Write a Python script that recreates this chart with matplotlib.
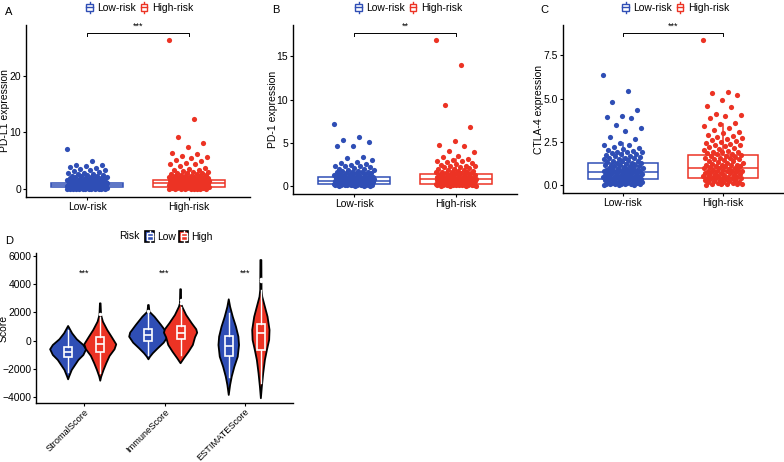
import matplotlib
matplotlib.use('Agg')
import matplotlib.pyplot as plt
from matplotlib.patches import Rectangle, Patch
from matplotlib.lines import Line2D
from matplotlib.legend_handler import HandlerBase

plt.rcParams['font.family'] = ['Liberation Sans', 'DejaVu Sans']

BLUE = '#2F4EB5'
RED = '#EC3324'
W, H = 784, 462

groups = ['Low-risk', 'High-risk']

# ---------------- Panel A : PD-L1 ----------------
A_low = [7.0, 5.0, 4.3, 4.2, 4.0, 3.9, 3.7, 3.5, 3.4, 3.3, 3.2, 3.0, 2.9, 2.8, 2.7, 2.6, 2.5, 2.5,
         2.4, 2.3, 2.3, 2.2, 2.1, 2.1, 2.0, 2.0, 1.9, 1.9, 1.8, 1.8, 1.8, 1.7, 1.7, 1.6, 1.6, 1.6,
         1.5, 1.5, 1.5, 1.4, 1.4, 1.4, 1.3, 1.3, 1.3, 1.3, 1.2, 1.2, 1.2, 1.2, 1.1, 1.1, 1.1, 1.1,
         1.0, 1.0, 1.0, 1.0, 1.0, 0.9, 0.9, 0.9, 0.9, 0.9, 0.8, 0.8, 0.8, 0.8, 0.8, 0.8, 0.7, 0.7,
         0.7, 0.7, 0.7, 0.7, 0.6, 0.6, 0.6, 0.6, 0.6, 0.6, 0.6, 0.5, 0.5, 0.5, 0.5, 0.5, 0.5, 0.5,
         0.4, 0.4, 0.4, 0.4, 0.4, 0.4, 0.4, 0.3, 0.3, 0.3, 0.3, 0.3, 0.3, 0.3, 0.2, 0.2, 0.2, 0.2,
         0.2, 0.2, 0.2, 0.1, 0.1, 0.1, 0.1, 0.1, 0.1, 0.05, 0.05, 0.05, 0.05, 0.0, 0.0, 0.0]
A_high = [26.2, 12.3, 9.2, 8.1, 7.4, 6.3, 6.2, 5.8, 5.7, 5.5, 5.1, 5.0, 4.6, 4.5, 4.4, 4.1, 3.8,
          3.6, 3.4, 3.3, 3.2, 3.1, 3.0, 2.9, 2.8, 2.8, 2.7, 2.6, 2.5, 2.5, 2.4, 2.4, 2.3, 2.3, 2.2,
          2.2, 2.1, 2.1, 2.0, 2.0, 1.9, 1.9, 1.9, 1.8, 1.8, 1.8, 1.7, 1.7, 1.7, 1.6, 1.6, 1.6, 1.5,
          1.5, 1.5, 1.4, 1.4, 1.4, 1.4, 1.3, 1.3, 1.3, 1.3, 1.2, 1.2, 1.2, 1.2, 1.1, 1.1, 1.1, 1.1,
          1.0, 1.0, 1.0, 1.0, 1.0, 0.9, 0.9, 0.9, 0.9, 0.9, 0.8, 0.8, 0.8, 0.8, 0.8, 0.7, 0.7, 0.7,
          0.7, 0.7, 0.6, 0.6, 0.6, 0.6, 0.6, 0.5, 0.5, 0.5, 0.5, 0.5, 0.4, 0.4, 0.4, 0.4, 0.4, 0.3,
          0.3, 0.3, 0.3, 0.3, 0.2, 0.2, 0.2, 0.2, 0.2, 0.1, 0.1, 0.1, 0.1, 0.1, 0.05, 0.05, 0.0, 0.0]
# box stats: whisker low, q1, median, q3, whisker high
A_low_box = [0.0, 0.30, 0.70, 1.15, 2.4]
A_high_box = [0.0, 0.40, 1.05, 1.65, 3.5]

# ---------------- Panel B : PD-1 ----------------
B_low = [7.2, 5.7, 5.4, 5.1, 4.7, 4.6, 3.4, 3.3, 3.0, 2.8, 2.7, 2.6, 2.5, 2.4, 2.3, 2.3, 2.2, 2.1,
         2.0, 2.0, 1.9, 1.9, 1.8, 1.8, 1.7, 1.7, 1.6, 1.6, 1.5, 1.5, 1.5, 1.4, 1.4, 1.4, 1.3, 1.3,
         1.3, 1.2, 1.2, 1.2, 1.1, 1.1, 1.1, 1.1, 1.0, 1.0, 1.0, 1.0, 0.9, 0.9, 0.9, 0.9, 0.8, 0.8,
         0.8, 0.8, 0.8, 0.8, 0.7, 0.7, 0.7, 0.7, 0.7, 0.7, 0.6, 0.6, 0.6, 0.6, 0.6, 0.6, 0.6, 0.5,
         0.5, 0.5, 0.5, 0.5, 0.5, 0.5, 0.4, 0.4, 0.4, 0.4, 0.4, 0.4, 0.4, 0.3, 0.3, 0.3, 0.3, 0.3,
         0.3, 0.3, 0.2, 0.2, 0.2, 0.2, 0.2, 0.2, 0.2, 0.1, 0.1, 0.1, 0.1, 0.1, 0.1, 0.0, 0.0, 0.0,
         0.0]
B_high = [16.9, 14.0, 9.4, 6.8, 5.2, 4.8, 4.7, 4.1, 4.0, 3.5, 3.4, 3.2, 3.0, 2.9, 2.9, 2.8, 2.7,
          2.6, 2.5, 2.4, 2.4, 2.3, 2.2, 2.2, 2.1, 2.0, 2.0, 1.9, 1.9, 1.8, 1.8, 1.7, 1.7, 1.6, 1.6,
          1.5, 1.5, 1.5, 1.4, 1.4, 1.4, 1.3, 1.3, 1.3, 1.2, 1.2, 1.2, 1.1, 1.1, 1.1, 1.0, 1.0, 1.0,
          1.0, 0.9, 0.9, 0.9, 0.9, 0.9, 0.8, 0.8, 0.8, 0.8, 0.8, 0.8, 0.7, 0.7, 0.7, 0.7, 0.7, 0.7,
          0.6, 0.6, 0.6, 0.6, 0.6, 0.6, 0.5, 0.5, 0.5, 0.5, 0.5, 0.5, 0.4, 0.4, 0.4, 0.4, 0.4, 0.4,
          0.3, 0.3, 0.3, 0.3, 0.3, 0.3, 0.2, 0.2, 0.2, 0.2, 0.2, 0.2, 0.1, 0.1, 0.1, 0.1, 0.1, 0.1,
          0.0, 0.0, 0.0, 0.0]
B_low_box = [0.0, 0.27, 0.57, 1.03, 2.15]
B_high_box = [0.0, 0.27, 0.85, 1.42, 3.1]

# ---------------- Panel C : CTLA-4 ----------------
C_low = [6.35, 5.45, 4.83, 4.36, 4.0, 3.93, 3.86, 3.47, 3.28, 3.16, 2.8, 2.7, 2.43, 2.35, 2.3, 2.2,
         2.15, 2.1, 2.05, 2.0, 1.95, 1.9, 1.9, 1.85, 1.8, 1.8, 1.75, 1.7, 1.7, 1.65, 1.6, 1.6, 1.55,
         1.5, 1.5, 1.45, 1.4, 1.4, 1.4, 1.35, 1.3, 1.3, 1.3, 1.25, 1.2, 1.2, 1.2, 1.15, 1.1, 1.1,
         1.1, 1.05, 1.0, 1.0, 1.0, 1.0, 0.95, 0.95, 0.9, 0.9, 0.9, 0.9, 0.85, 0.85, 0.85, 0.8, 0.8,
         0.8, 0.8, 0.75, 0.75, 0.75, 0.7, 0.7, 0.7, 0.7, 0.65, 0.65, 0.65, 0.6, 0.6, 0.6, 0.6, 0.55,
         0.55, 0.55, 0.5, 0.5, 0.5, 0.5, 0.45, 0.45, 0.45, 0.4, 0.4, 0.4, 0.4, 0.35, 0.35, 0.35, 0.3,
         0.3, 0.3, 0.3, 0.25, 0.25, 0.25, 0.2, 0.2, 0.2, 0.2, 0.15, 0.15, 0.15, 0.1, 0.1, 0.1, 0.1,
         0.05, 0.05, 0.05, 0.02, 0.02, 0.0]
C_high = [8.39, 5.4, 5.3, 5.2, 4.9, 4.6, 4.5, 4.1, 4.05, 4.0, 3.9, 3.6, 3.55, 3.4, 3.3, 3.2, 3.1,
          3.0, 2.9, 2.85, 2.8, 2.75, 2.7, 2.6, 2.55, 2.5, 2.45, 2.4, 2.35, 2.3, 2.25, 2.2, 2.15, 2.1,
          2.05, 2.0, 1.95, 1.9, 1.9, 1.85, 1.8, 1.8, 1.75, 1.7, 1.7, 1.65, 1.6, 1.6, 1.55, 1.5, 1.5,
          1.45, 1.4, 1.4, 1.35, 1.3, 1.3, 1.25, 1.2, 1.2, 1.2, 1.15, 1.1, 1.1, 1.1, 1.05, 1.0, 1.0,
          1.0, 0.95, 0.9, 0.9, 0.9, 0.85, 0.85, 0.8, 0.8, 0.8, 0.75, 0.75, 0.7, 0.7, 0.7, 0.65, 0.65,
          0.6, 0.6, 0.6, 0.55, 0.55, 0.5, 0.5, 0.5, 0.45, 0.45, 0.4, 0.4, 0.4, 0.35, 0.35, 0.3, 0.3,
          0.3, 0.25, 0.25, 0.2, 0.2, 0.2, 0.15, 0.15, 0.1, 0.1, 0.1, 0.05, 0.05, 0.0]
C_low_box = [0.0, 0.38, 0.76, 1.27, 2.43]
C_high_box = [0.0, 0.44, 0.99, 1.76, 3.56]

# ---------------- Panel D : violins ----------------
D_categories = ['StromalScore', 'ImmuneScore', 'ESTIMATEScore']
# density profiles (score level, relative half width)
SL_y = [1043, 525, 100, -305, -610, -1015, -1370, -1720, -2080, -2550, -2740]
SL_w = [0.0, 0.05, 0.108, 0.19, 0.224, 0.19, 0.128, 0.087, 0.045, 0.012, 0.0]
SH_y = [2650, 1820, 1350, 760, 240, -260, -610, -1085, -1600, -2080, -2550, -2840]
SH_w = [0.004, 0.01, 0.033, 0.087, 0.145, 0.199, 0.178, 0.116, 0.075, 0.041, 0.012, 0.0]
IL_y = [2530, 2060, 1700, 1115, 570, 285, -140, -540, -895, -1135, -1320]
IL_w = [0.004, 0.012, 0.075, 0.157, 0.228, 0.24, 0.19, 0.116, 0.054, 0.02, 0.0]
IH_y = [3650, 2650, 2410, 1820, 1230, 810, 570, 240, -305, -780, -1250, -1600]
IH_w = [0.004, 0.008, 0.02, 0.07, 0.14, 0.195, 0.207, 0.18, 0.153, 0.1, 0.041, 0.0]
EL_y = [2935, 2410, 1700, 990, 285, -305, -1135, -1845, -2550, -3140, -3850]
EL_w = [0.0, 0.017, 0.05, 0.09, 0.12, 0.128, 0.112, 0.07, 0.037, 0.017, 0.0]
EH_y = [5720, 3600, 3120, 2410, 1700, 760, 50, -660, -1370, -2310, -3260, -4085]
EH_w = [0.006, 0.008, 0.017, 0.05, 0.083, 0.108, 0.103, 0.075, 0.05, 0.029, 0.012, 0.0]
# box stats: whisker low, q1, median, q3, whisker high
SL_box = [-2200, -1180, -780, -425, 760]
SH_box = [-2270, -780, -260, 240, 1700]
IL_box = [-1015, 0, 400, 810, 2000]
IH_box = [-1050, 100, 570, 1040, 2400]
EL_box = [-2550, -1085, -380, 330, 1960]
EH_box = [-3000, -640, 580, 1150, 3600]
SH_out = [1890]
IL_out = [2080]
IH_out = [2700, 2890]
EH_out = [4260, 4400]

fig = plt.figure(figsize=(W / 100, H / 100), dpi=100)


def add_ax(l, t, r, b):
    return fig.add_axes([l / W, 1 - b / H, (r - l) / W, (b - t) / H])


def style(ax):
    for s in ['top', 'right']:
        ax.spines[s].set_visible(False)
    for s in ['left', 'bottom']:
        ax.spines[s].set_linewidth(1.0)
    ax.tick_params(direction='out', length=2.2, width=0.8, pad=1.2, labelsize=7.5, colors='black')


class BoxKey(HandlerBase):
    def __init__(self, col, violin=False):
        super().__init__()
        self.col = col
        self.violin = violin

    def create_artists(self, legend, orig_handle, xdescent, ydescent, width, height, fontsize, trans):
        x0, y0 = -xdescent, -ydescent
        arts = []
        if self.violin:
            arts.append(Rectangle((x0, y0), width, height, facecolor=self.col, edgecolor='black',
                                  lw=1.2, transform=trans))
            lc, fc = 'white', self.col
        else:
            lc, fc = self.col, 'white'
        bx, bw = x0 + width * 0.15, width * 0.7
        by, bh = y0 + height * 0.2, height * 0.6
        arts.append(Line2D([x0 + width / 2] * 2, [y0 + height * 0.0, y0 + height * 1.0],
                           color=lc, lw=1.0, transform=trans))
        arts.append(Rectangle((bx, by), bw, bh, facecolor=fc, edgecolor=lc, lw=1.0, transform=trans))
        arts.append(Line2D([bx, bx + bw], [y0 + height / 2] * 2, color=lc, lw=1.0, transform=trans))
        return arts


def jitter_offsets(n, half):
    return [((i * 0.6180339887) % 1.0 - 0.5) * 2 * half for i in range(n)]


def box_panel(ax, low, high, lowbox, highbox, ylabel, stars, yticks, leg_cx):
    top = max(max(low), max(high)) * 1.05
    for pos, box, col in [(1, lowbox, BLUE), (2, highbox, RED)]:
        st = [dict(whislo=box[0], q1=box[1], med=box[2], q3=box[3], whishi=box[4], fliers=[])]
        ax.bxp(st, positions=[pos], widths=0.7, patch_artist=True, showfliers=False, showcaps=False,
               boxprops=dict(facecolor='white', edgecolor=col, lw=1.1),
               medianprops=dict(color=col, lw=1.1),
               whiskerprops=dict(color=col, lw=1.1), zorder=2)
    for pos, vals, col in [(1, low, BLUE), (2, high, RED)]:
        offs = jitter_offsets(len(vals), 0.2)
        ax.scatter([pos + o for o in offs], vals, s=14, color=col, linewidths=0, zorder=3)
    # bracket
    tick = top * 0.02
    ax.plot([1, 1, 2, 2], [top - tick, top, top, top - tick], color='black', lw=0.7,
            clip_on=False, zorder=4)
    ax.annotate(stars, (1.5, top), xytext=(0, 1.5), textcoords='offset points',
                ha='center', va='bottom', fontsize=6.5)
    ax.set_xlim(0.4, 2.6)
    ax.set_ylim(-0.05 * top, top * 1.05)
    ax.set_xticks([1, 2])
    ax.set_xticklabels(groups)
    ax.set_yticks(yticks)
    ax.set_ylabel(ylabel, fontsize=7.5)
    style(ax)
    h1, h2 = Patch(), Patch()
    ax.legend([h1, h2], groups, handler_map={h1: BoxKey(BLUE), h2: BoxKey(RED)},
              loc='center', bbox_to_anchor=(leg_cx / W, 1 - 7.5 / H), bbox_transform=fig.transFigure,
              ncol=2, frameon=False, fontsize=7.5, handlelength=0.9, handleheight=1.3,
              handletextpad=0.3, columnspacing=0.3, borderpad=0)


axA = add_ax(26, 25, 250, 197)
box_panel(axA, A_low, A_high, A_low_box, A_high_box, 'PD-L1 expression', '***', [0, 10, 20], 139)
axA.yaxis.set_label_coords((10 - 26) / 224, 0.5)

axB = add_ax(293, 25, 517, 194)
box_panel(axB, B_low, B_high, B_low_box, B_high_box, 'PD-1 expression', '**', [0, 5, 10, 15], 408)
axB.yaxis.set_label_coords((277.5 - 293) / 224, 0.5)

axC = add_ax(563, 25, 783, 193)
box_panel(axC, C_low, C_high, C_low_box, C_high_box, 'CTLA-4 expression', '***',
          [0, 2.5, 5.0, 7.5], 675)
axC.set_yticklabels(['0.0', '2.5', '5.0', '7.5'])
axC.yaxis.set_label_coords((544.5 - 563) / 220, 0.5)

# ---------------- Panel D ----------------
axD = add_ax(36, 253, 293, 403)
viol = [
    (1 - 0.2, SL_y, SL_w, SL_box, [], BLUE),
    (1 + 0.2, SH_y, SH_w, SH_box, SH_out, RED),
    (2 - 0.2, IL_y, IL_w, IL_box, IL_out, BLUE),
    (2 + 0.2, IH_y, IH_w, IH_box, IH_out, RED),
    (3 - 0.2, EL_y, EL_w, EL_box, [], BLUE),
    (3 + 0.2, EH_y, EH_w, EH_box, EH_out, RED),
]
for cx, ys, ws, box, outs, col in viol:
    xs = [cx + w for w in ws] + [cx - w for w in ws[::-1]]
    yy = list(ys) + list(ys[::-1])
    axD.fill(xs, yy, facecolor=col, edgecolor='black', lw=1.3, joinstyle='round', zorder=2)
for cx, ys, ws, box, outs, col in viol:
    st = [dict(whislo=box[0], q1=box[1], med=box[2], q3=box[3], whishi=box[4], fliers=outs)]
    axD.bxp(st, positions=[cx], widths=0.1, patch_artist=True, showfliers=True, showcaps=False,
            boxprops=dict(facecolor=col, edgecolor='white', lw=1.2),
            medianprops=dict(color='white', lw=1.2),
            whiskerprops=dict(color='white', lw=1.0),
            flierprops=dict(marker='o', markersize=1.5, markerfacecolor='white',
                            markeredgecolor='white'), zorder=3)
for i in range(3):
    axD.text(i + 1, 4750, '***', ha='center', va='center', fontsize=6.5)
axD.set_xlim(0.4, 3.6)
axD.set_ylim(-4420, 6220)
axD.set_yticks([-4000, -2000, 0, 2000, 4000, 6000])
axD.set_xticks([1, 2, 3])
axD.set_xticklabels(D_categories, rotation=45, ha='right', va='top', rotation_mode='anchor')
axD.set_ylabel('Score', fontsize=7.5)
style(axD)
axD.tick_params(axis='x', labelsize=6.7, pad=0.8)
axD.yaxis.set_label_coords((8.5 - 36) / 257, 0.5)
d1, d2 = Patch(), Patch()
axD.legend([d1, d2], ['Low', 'High'],
           handler_map={d1: BoxKey(BLUE, violin=True), d2: BoxKey(RED, violin=True)},
           loc='center', bbox_to_anchor=(179 / W, 1 - 236.5 / H), bbox_transform=fig.transFigure,
           ncol=2, frameon=False, fontsize=7.5, handlelength=0.85, handleheight=1.2,
           handletextpad=0.3, columnspacing=0.3, borderpad=0)
fig.text(139 / W, 1 - 236.5 / H, 'Risk', ha='right', va='center', fontsize=7.5)

# panel letters
for lab, x, y in [('A', 5, 12), ('B', 272, 10), ('C', 540, 10), ('D', 5, 241)]:
    fig.text(x / W, 1 - y / H, lab, ha='left', va='center', fontsize=8)

fig.savefig('out.png', dpi=100)
